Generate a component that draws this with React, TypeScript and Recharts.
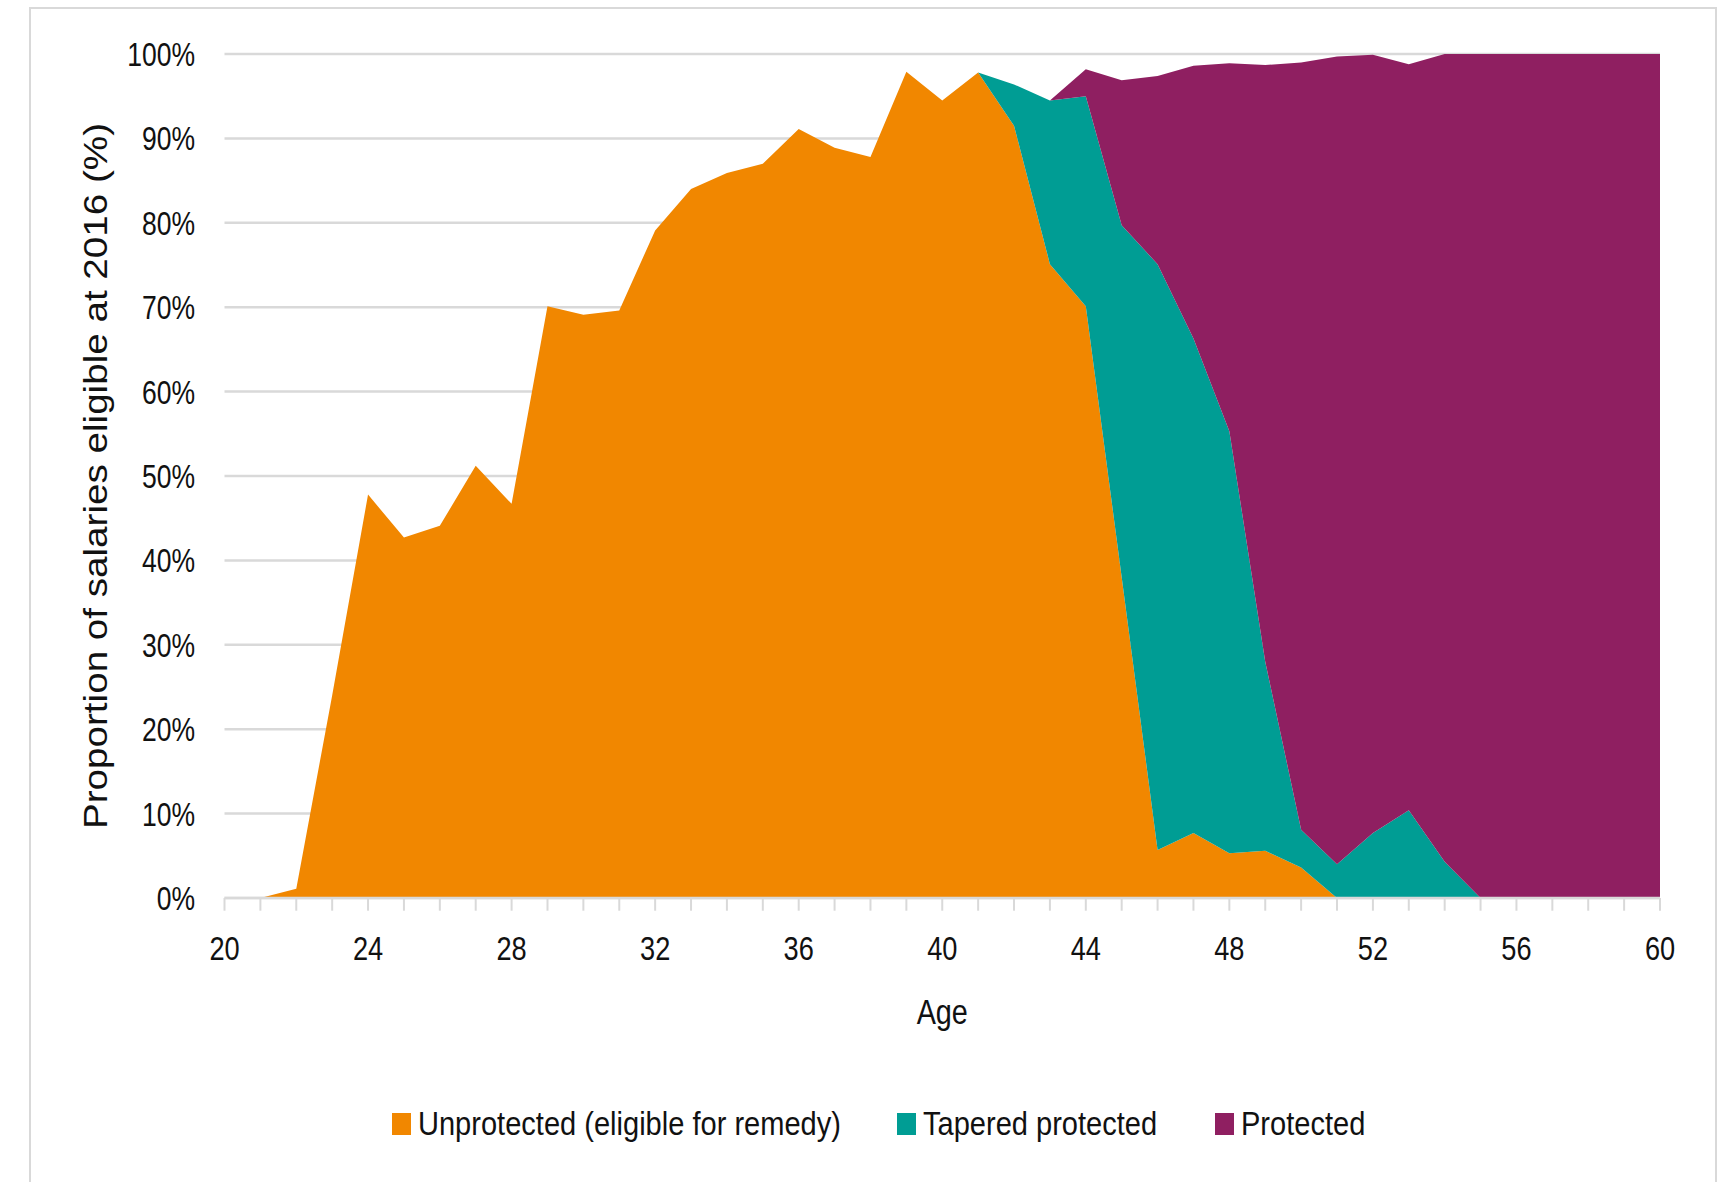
import React from "react";
import { AreaChart, Area, XAxis, YAxis, CartesianGrid } from "recharts";

const ages = [20, 21, 22, 23, 24, 25, 26, 27, 28, 29, 30, 31, 32, 33, 34, 35, 36, 37, 38, 39, 40, 41, 42, 43, 44, 45, 46, 47, 48, 49, 50, 51, 52, 53, 54, 55, 56, 57, 58, 59, 60];
const labeledAges = [20, 24, 28, 32, 36, 40, 44, 48, 52, 56, 60];
const percentTicks = [0, 10, 20, 30, 40, 50, 60, 70, 80, 90, 100];

const unprotected = [0, 0, 1.1, 24.0, 47.8, 42.7, 44.1, 51.2, 46.7, 70.1, 69.1, 69.6, 79.1, 84.0, 85.9, 87.0, 91.1, 88.9, 87.8, 97.9, 94.5, 97.8, 91.5, 75.1, 70.1, 38.0, 5.7, 7.7, 5.3, 5.6, 3.6, 0, 0, 0, 0, 0, 0, 0, 0, 0, 0];
const tapered = [0, 0, 0, 0, 0, 0, 0, 0, 0, 0, 0, 0, 0, 0, 0, 0, 0, 0, 0, 0, 0, 0, 4.9, 19.4, 24.9, 41.7, 69.4, 58.6, 50.0, 22.4, 4.5, 4.0, 7.7, 10.4, 4.3, 0, 0, 0, 0, 0, 0];
const protectedVals = [0, 0, 0, 0, 0, 0, 0, 0, 0, 0, 0, 0, 0, 0, 0, 0, 0, 0, 0, 0, 0, 0, 0, 0, 3.2, 17.2, 22.3, 32.3, 43.6, 70.7, 90.9, 95.7, 92.2, 88.4, 95.7, 100, 100, 100, 100, 100, 100];

const seriesNames = ["Unprotected (eligible for remedy)", "Tapered protected", "Protected"];
const seriesKeys = ["unprotected", "tapered", "protected"];
const seriesColors = ["#F18700", "#009D94", "#8F1F61"];

const data = ages.map((age, i) => ({
  age,
  unprotected: unprotected[i],
  tapered: tapered[i],
  protected: protectedVals[i],
}));

const FONT = "'Liberation Sans', Arial, sans-serif";
const GRID = "#d9d9d9";
const TEXT = "#111111";
const legendLeft = [392, 897, 1215];

const XTick = (props: any) => {
  const { x, y, payload } = props;
  if (!labeledAges.includes(payload.value)) return <g />;
  return (
    <text
      transform={`translate(${x},${y}) scale(0.8,1)`}
      x={0}
      y={0}
      dy="0.71em"
      textAnchor="middle"
      fill={TEXT}
      fontSize={34}
      fontFamily={FONT}
    >
      {payload.value}
    </text>
  );
};

const YTick = (props: any) => {
  const { x, y, payload } = props;
  return (
    <text
      transform={`translate(${x},${y}) scale(0.78,1)`}
      x={0}
      y={0}
      dy="0.355em"
      textAnchor="end"
      fill={TEXT}
      fontSize={34}
      fontFamily={FONT}
    >
      {`${payload.value}%`}
    </text>
  );
};

export default function App() {
  return (
    <div style={{ position: "absolute", left: 0, top: 0, width: 1725, height: 1182, background: "#fff", overflow: "hidden" }}>
      <div
        style={{
          position: "absolute",
          left: 28.5,
          top: 6.5,
          width: 1688,
          height: 1176,
          boxSizing: "border-box",
          borderTop: `2.5px solid ${GRID}`,
          borderLeft: `2.5px solid ${GRID}`,
          borderRight: `2.5px solid ${GRID}`,
        }}
      />
      <div style={{ position: "absolute", left: 0, top: 0 }}>
        <AreaChart
          width={1725}
          height={1182}
          data={data}
          margin={{ top: 54, right: 65, bottom: 0, left: 0 }}
        >
          <CartesianGrid vertical={false} stroke={GRID} strokeWidth={2.5} />
          <XAxis
            type="number"
            dataKey="age"
            domain={[20, 60]}
            ticks={ages}
            interval={0}
            allowDecimals={false}
            height={284}
            axisLine={{ stroke: GRID, strokeWidth: 2.5 }}
            tickLine={{ stroke: GRID, strokeWidth: 2 }}
            tickSize={12.7}
            tickMargin={24.7}
            tick={<XTick />}
            label={{
              content: (p: any) => {
                const vb = p.viewBox || {};
                const cx = vb.x + vb.width / 2;
                const cy = vb.y + 125.5;
                return (
                  <text
                    transform={`translate(${cx},${cy}) scale(0.8,1)`}
                    x={0}
                    y={0}
                    textAnchor="middle"
                    fill={TEXT}
                    fontSize={36}
                    fontFamily={FONT}
                  >
                    Age
                  </text>
                );
              },
            }}
          />
          <YAxis
            type="number"
            domain={[0, 100]}
            ticks={percentTicks}
            interval={0}
            width={224.5}
            axisLine={false}
            tickLine={false}
            tickSize={0}
            tickMargin={29.5}
            tick={<YTick />}
            label={{
              content: (p: any) => {
                const vb = p.viewBox || {};
                const cx = 106.5;
                const cy = vb.y + vb.height / 2;
                return (
                  <text
                    x={cx}
                    y={cy}
                    transform={`rotate(-90, ${cx}, ${cy})`}
                    textAnchor="middle"
                    fill={TEXT}
                    fontSize={33}
                    fontFamily={FONT}
                    textLength={706}
                    lengthAdjust="spacingAndGlyphs"
                  >
                    Proportion of salaries eligible at 2016 (%)
                  </text>
                );
              },
            }}
          />
          {seriesKeys.map((k, i) => (
            <Area
              key={k}
              type="linear"
              dataKey={k}
              name={seriesNames[i]}
              stackId="1"
              stroke="none"
              fill={seriesColors[i]}
              fillOpacity={1}
              dot={false}
              activeDot={false}
              isAnimationActive={false}
            />
          ))}
        </AreaChart>
      </div>
      {seriesNames.map((n, i) => (
        <div
          key={n}
          style={{
            position: "absolute",
            left: legendLeft[i],
            top: 1104,
            height: 40,
            display: "flex",
            alignItems: "center",
            fontFamily: FONT,
            fontSize: 33,
            color: TEXT,
            whiteSpace: "nowrap",
          }}
        >
          <div style={{ width: 19, height: 22, background: seriesColors[i], marginRight: 7, flex: "none" }} />
          <span style={{ display: "inline-block", lineHeight: "40px", transform: "scaleX(0.88)", transformOrigin: "left center" }}>{n}</span>
        </div>
      ))}
    </div>
  );
}
